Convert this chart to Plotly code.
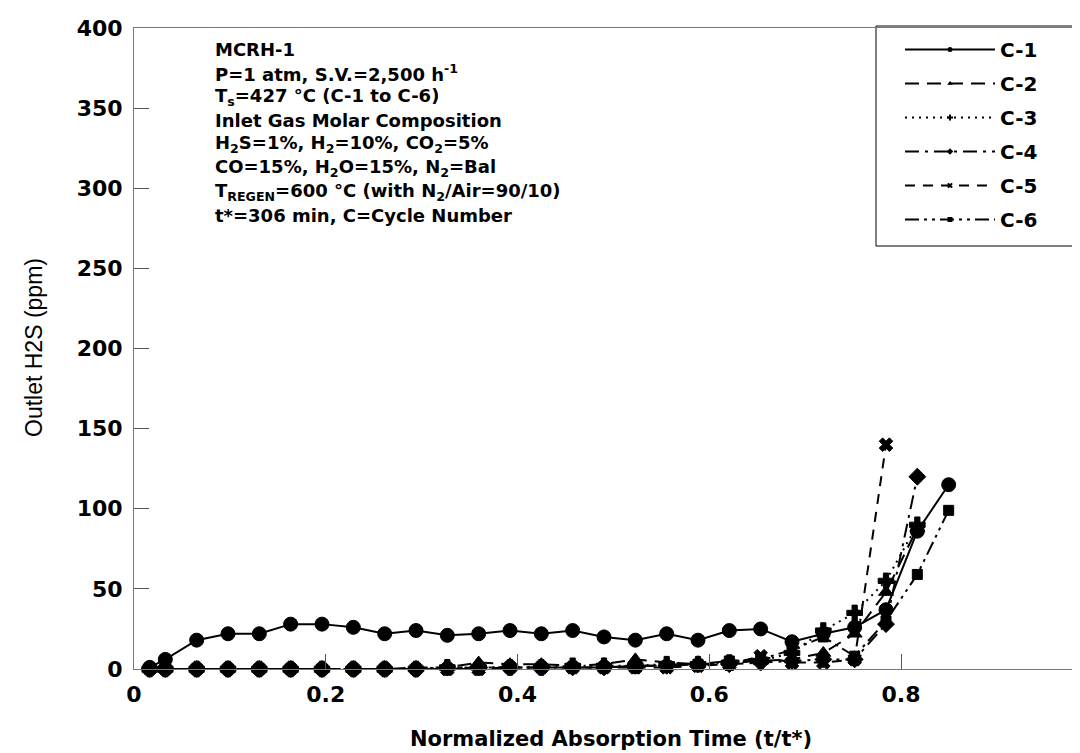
import plotly.graph_objects as go

# time points (min) normalised by t* = 306 min
t_star = 306
times = [5, 10, 20, 30, 40, 50, 60, 70, 80, 90, 100, 110, 120, 130, 140, 150,
         160, 170, 180, 190, 200, 210, 220, 230, 240, 250, 260]

c1 = [1, 6, 18, 22, 22, 28, 28, 26, 22, 24, 21, 22, 24, 22, 24, 20,
      18, 22, 18, 24, 25, 17, 22, 26, 37, 86, 115]
c2 = [0, 0, 0, 0, 0, 0, 0, 0, 0, 1, 1, 4, 3, 3, 2, 3,
      6, 4, 3, 4, 5, 6, 10, 22, 48, 88]
c3 = [0, 0, 0, 0, 0, 0, 0, 0, 0, 0, 1, 1, 1, 1, 2, 2,
      2, 3, 3, 4, 5, 10, 24, 35, 55, 90]
c4 = [0, 0, 0, 0, 0, 0, 0, 0, 0, 0, 1, 1, 1, 1, 1, 1,
      2, 2, 3, 3, 4, 5, 6, 6, 28, 120]
c5 = [0, 0, 0, 0, 0, 0, 0, 0, 0, 0, 0, 0, 1, 1, 1, 1,
      1, 1, 2, 3, 8, 4, 4, 6, 140]
c6 = [0, 0, 0, 0, 0, 0, 0, 0, 0, 0, 0, 1, 1, 1, 1, 1,
      2, 2, 3, 5, 6, 12, 20, 8, 30, 59, 99]

names = ["C-1", "C-2", "C-3", "C-4", "C-5", "C-6"]
series = [c1, c2, c3, c4, c5, c6]
dashes = ["solid", "14px,8px", "2px,5px", "14px,6px,3px,6px", "10px,8px",
          "14px,5px,3px,5px,3px,5px"]
symbols = ["circle", "triangle-up", "cross", "diamond", "x", "square"]
sizes = [14, 13, 13, 13, 12, 10]

x_ticks = [0, 0.2, 0.4, 0.6, 0.8]
x_tick_text = ["0", "0.2", "0.4", "0.6", "0.8"]
y_ticks = [0, 50, 100, 150, 200, 250, 300, 350, 400]

BOLD = "DejaVu Sans"
REG = "Liberation Sans"

fig = go.Figure()
for name, vals, dash, sym, sz in zip(names, series, dashes, symbols, sizes):
    xs = [t / t_star for t in times[:len(vals)]]
    fig.add_trace(go.Scatter(
        x=xs, y=vals, mode="lines+markers", name=name, showlegend=False,
        cliponaxis=False,
        line=dict(color="black", width=2, dash=dash),
        marker=dict(symbol=sym, size=sz, color="black",
                    line=dict(color="black", width=1)),
    ))
# legend entries with small markers
for name, dash, sym in zip(names, dashes, symbols):
    fig.add_trace(go.Scatter(
        x=[None], y=[None], mode="lines+markers", name=name,
        legendgroup=name,
        line=dict(color="black", width=2, dash=dash),
        marker=dict(symbol=sym, size=5, color="black"),
    ))

lines = [
    "MCRH-1",
    "P=1 atm, S.V.=2,500 h<sup>-1</sup>",
    "T<sub>s</sub>=427 °C (C-1 to C-6)",
    "Inlet Gas Molar Composition",
    "H<sub>2</sub>S=1%, H<sub>2</sub>=10%, CO<sub>2</sub>=5%",
    "CO=15%, H<sub>2</sub>O=15%, N<sub>2</sub>=Bal",
    "T<sub>REGEN</sub>=600 °C (with N<sub>2</sub>/Air=90/10)",
    "t*=306 min, C=Cycle Number",
]
PLOT_H = 753 - 20 - 92
PLOT_W = 1080 - 126
for i, txt in enumerate(lines):
    ypix = 41 + i * 23.8
    fig.add_annotation(
        x=(205 - 126) / PLOT_W, xref="paper", y=(661 - ypix) / PLOT_H, yref="paper",
        xanchor="left", yanchor="middle", showarrow=False,
        text="<b>" + txt + "</b>",
        font=dict(family=BOLD, size=18, color="black"),
    )

# axis titles
fig.add_annotation(
    x=0.5, xref="paper", y=(661 - 731) / PLOT_H, yref="paper",
    xanchor="center", yanchor="middle", showarrow=False,
    text="<b>Normalized Absorption Time (t/t*)</b>",
    font=dict(family=BOLD, size=21, color="black"),
)
fig.add_annotation(
    x=(26 - 126) / PLOT_W, xref="paper", y=(661 - 340) / PLOT_H, yref="paper",
    xanchor="center", yanchor="middle", showarrow=False, textangle=-90,
    text="Outlet H2S (ppm)",
    font=dict(family=REG, size=23, color="black"),
)

# legend frame
fig.add_shape(
    type="rect", xref="paper", yref="paper",
    x0=(868 - 126) / PLOT_W, x1=1.05, y0=(661 - 238) / PLOT_H, y1=(661 - 18) / PLOT_H,
    line=dict(color="black", width=1), fillcolor="white", layer="below",
)

fig.update_layout(
    width=1080, height=753,
    margin=dict(l=126, r=0, t=20, b=92),
    paper_bgcolor="white", plot_bgcolor="white",
    font=dict(family=REG, color="black"),
    legend=dict(
        x=(892 - 126) / PLOT_W, y=(661 - 22) / PLOT_H, xanchor="left", yanchor="top",
        bgcolor="rgba(0,0,0,0)", borderwidth=0,
        font=dict(family=BOLD, size=20, color="black", weight="bold"),
        itemwidth=90, tracegroupgap=5,
    ),
)
fig.update_xaxes(
    range=[0, 0.995], tickvals=x_ticks, ticktext=x_tick_text,
    ticks="inside", ticklen=15, tickcolor="#555", showgrid=False, zeroline=False,
    showline=True, linecolor="#777", linewidth=1, mirror=True, automargin=False,
    ticklabelstandoff=6,
    tickfont=dict(family=BOLD, size=22, color="black", weight="bold"),
)
fig.update_yaxes(
    range=[0, 400], tickvals=y_ticks,
    ticks="inside", ticklen=15, tickcolor="#555", showgrid=False, zeroline=False,
    showline=True, linecolor="#777", linewidth=1, mirror=True, automargin=False,
    ticklabelstandoff=6,
    tickfont=dict(family=BOLD, size=22, color="black", weight="bold"),
)

fig.write_html("out.html")
